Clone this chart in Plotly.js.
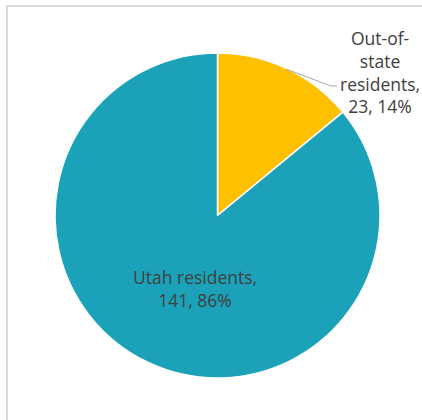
<!DOCTYPE html>
<html>
<head>
<meta charset="utf-8">
<script src="https://cdn.plot.ly/plotly-3.0.1.min.js"></script>
<style>html,body{margin:0;padding:0;background:#fff;}#chart{width:422px;height:420px;}</style>
</head>
<body>
<div id="chart"></div>
<script>
const labels = ["Out-of-state residents", "Utah residents"];
const values = [23, 141];
const colors = ["#FFC000", "#1BA2B8"];
const labelLines = [["Out-of-", "state", "residents,"], ["Utah residents,"]];

const W = 422, H = 420;
const px = x => x / W;
const py = y => 1 - y / H;

const total = values.reduce((a, b) => a + b, 0);
const pct = values.map(v => Math.round(v / total * 100));
const labelText = labelLines.map((lines, i) => lines.concat([values[i] + ", " + pct[i] + "%"]).join("<br>"));

const trace = {
  type: "pie",
  labels: labels,
  values: values,
  sort: false,
  direction: "clockwise",
  rotation: 0,
  marker: { colors: colors, line: { color: "#ffffff", width: 1.5 } },
  textinfo: "none",
  hoverinfo: "label+value+percent",
  showlegend: false,
  domain: { x: [px(55), px(380)], y: [py(378), py(53)] }
};

const font = { family: "Open Sans, sans-serif", size: 17.5, color: "#404040" };

const layout = {
  width: W, height: H,
  margin: { l: 0, r: 0, t: 0, b: 0 },
  paper_bgcolor: "#ffffff",
  showlegend: false,
  font: font,
  annotations: [
    { text: labelText[0], xref: "paper", yref: "paper", x: px(380), y: py(72), xanchor: "center", yanchor: "middle", showarrow: false, font: font, align: "center" },
    { text: labelText[1], xref: "paper", yref: "paper", x: px(195), y: py(288), xanchor: "center", yanchor: "middle", showarrow: false, font: font, align: "center" }
  ],
  shapes: [
    { type: "path", xref: "paper", yref: "paper",
      path: `M ${px(7)} 0 L ${px(7)} ${py(6)} L 1 ${py(6)}`,
      line: { color: "#d9d9d9", width: 2 } },
    { type: "path", xref: "paper", yref: "paper",
      path: `M ${px(286)} ${py(69)} L ${px(331)} ${py(86)} L ${px(337)} ${py(86)}`,
      line: { color: "#a6a6a6", width: 1 } }
  ]
};

Plotly.newPlot("chart", [trace], layout, { displayModeBar: false, staticPlot: true });
</script>
</body>
</html>
